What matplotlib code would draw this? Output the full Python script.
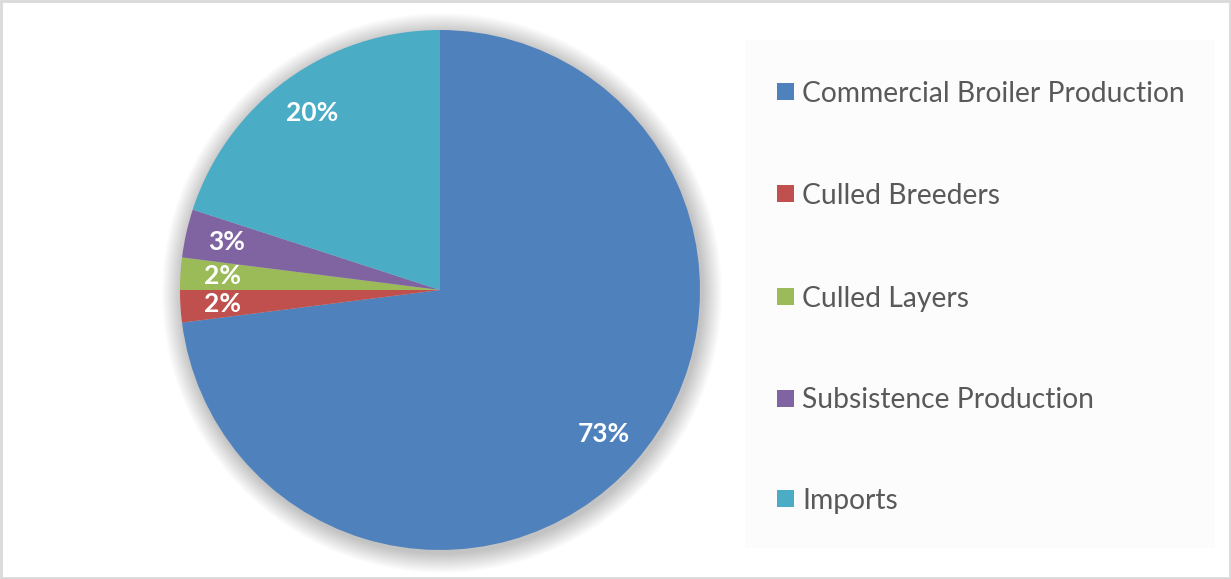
import matplotlib.pyplot as plt
from matplotlib.patches import Rectangle, Circle

# Share of supply by source (%)
sources = ["Commercial Broiler Production", "Culled Breeders", "Culled Layers",
           "Subsistence Production", "Imports"]
shares = [73, 2, 2, 3, 20]
colors = ["#4F81BD", "#C0504D", "#9BBB59", "#8064A2", "#4BACC6"]

W, H = 1231, 579
fig = plt.figure(figsize=(W / 100, H / 100), dpi=100)
ax = fig.add_axes([0, 0, 1, 1])

# outer frame
ax.add_patch(Rectangle((1, 1), W - 2, H - 2, fill=False, edgecolor="#D9D9D9", lw=2))

cx, cy, r = 440, 289, 260

# soft shadow behind the pie
for i in range(20):
    ax.add_patch(Circle((cx + 2, cy - 3), r + 20 - i, color="black", alpha=0.01, lw=0, zorder=1))

wedges, _, pcts = ax.pie(
    shares, colors=colors, startangle=90, counterclock=False,
    center=(cx, cy), radius=r, autopct=lambda p: f"{p:.0f}%", pctdistance=0.84,
    wedgeprops=dict(linewidth=0, zorder=2), frame=True,
)
ax.set_xlim(0, W)
ax.set_ylim(0, H)
ax.axis("off")
for t in pcts:
    t.set_color("white")
    t.set_fontfamily("Lato")
    t.set_fontweight("bold")
    t.set_fontsize(19)
    t.set_zorder(3)

# legend panel
ax.add_patch(Rectangle((745, H - 548), 470, 508, facecolor="#FCFCFC", edgecolor="none", zorder=1))
rows_y = [91, 193, 296, 398, 498]
for name, col, y in zip(sources, colors, rows_y):
    ax.add_patch(Rectangle((777, H - y - 8.5), 17, 17, facecolor=col, edgecolor="none", zorder=3))
    ax.text(802, H - y, name, fontsize=20.3, family="Lato", color="#595959",
            va="center_baseline", ha="left", zorder=3)

fig.savefig("out.png", dpi=100)
